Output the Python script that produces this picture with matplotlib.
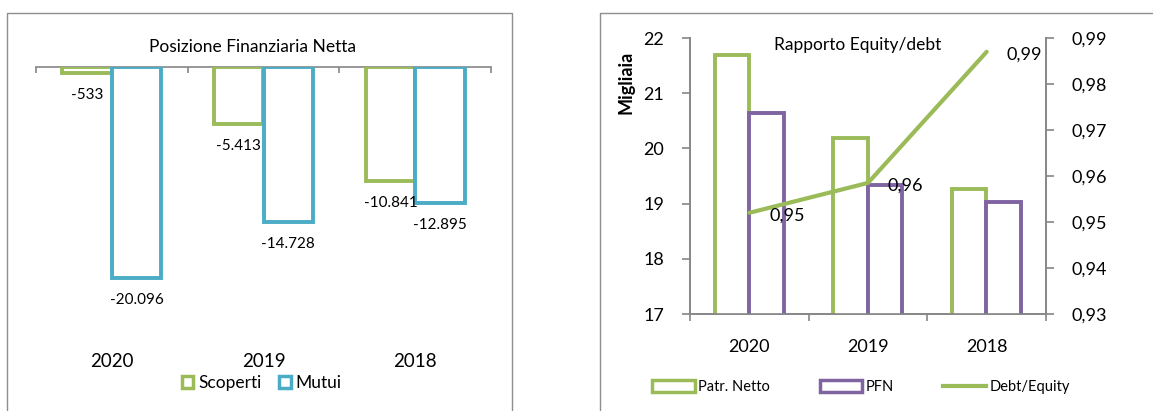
import matplotlib
matplotlib.use("Agg")
import matplotlib.pyplot as plt
from matplotlib.patches import Patch
from matplotlib.lines import Line2D
from matplotlib.ticker import FixedLocator, FuncFormatter
from matplotlib import transforms

# ---------------- data ----------------
years = ["2020", "2019", "2018"]
scoperti = [-533, -5413, -10841]
mutui = [-20096, -14728, -12895]
patr_netto = [21.69, 20.19, 19.26]      # migliaia
pfn = [20.65, 19.34, 19.03]             # migliaia
debt_equity = [0.952, 0.9585, 0.987]

title_left = "Posizione Finanziaria Netta"
title_right = "Rapporto Equity/debt"

GREEN = "#9BBB59"
BLUE = "#4BACC6"
PURPLE = "#8064A2"
AXIS = "#868686"
FRAME = "#8E8E8E"

plt.rcParams["font.family"] = ["Lato", "DejaVu Sans"]

W, H = 1153, 411
fig = plt.figure(figsize=(W / 100, H / 100), dpi=100)
fig.patch.set_facecolor("white")


def fx(x):
    return x / W


def fy(y):
    return 1 - y / H


def it(v):
    s = f"{abs(v):,}".replace(",", ".")
    return ("-" if v < 0 else "") + s


# panel frames
fig.add_artist(Line2D([fx(7), fx(7), fx(512), fx(512)], [0, fy(13), fy(13), 0],
                      transform=fig.transFigure, color=FRAME, lw=1.0))
fig.add_artist(Line2D([fx(600), fx(600), 1], [0, fy(13), fy(13)],
                      transform=fig.transFigure, color=FRAME, lw=1.0))

# ---------------- left chart ----------------
x = list(range(len(years)))
ax1 = fig.add_axes([fx(36), fy(330), fx(491) - fx(36), fy(67) - fy(330)])
ax1.set_xlim(-0.5, 2.5)
ax1.set_ylim(-25000, 0)
for s in ["left", "right", "bottom"]:
    ax1.spines[s].set_visible(False)
ax1.spines["top"].set_color(AXIS)
ax1.spines["top"].set_linewidth(1.2)
ax1.xaxis.set_ticks_position("top")
ax1.set_xticks([-0.5, 0.5, 1.5, 2.5])
ax1.tick_params(axis="x", direction="in", length=4, width=1.2, color=AXIS,
                labeltop=False, labelbottom=False)
ax1.set_yticks([])
ax1.patch.set_alpha(0)

bw1 = 0.325
xs_s = [i - 0.163 for i in x]
xs_m = [i + 0.163 for i in x]
ax1.bar(xs_s, scoperti, width=bw1, facecolor="white", edgecolor=GREEN, linewidth=2.8, zorder=3)
ax1.bar(xs_m, mutui, width=bw1, facecolor="white", edgecolor=BLUE, linewidth=2.8, zorder=4)
for xi, v in zip(xs_s + xs_m, scoperti + mutui):
    ax1.annotate(it(v), (xi, v), xytext=(0, -22), textcoords="offset pixels",
                 ha="center", va="center", fontsize=11, zorder=6)

bt1 = transforms.blended_transform_factory(ax1.transData, fig.transFigure)
for i, y in enumerate(years):
    ax1.text(i, fy(361), y, transform=bt1, ha="center", va="center", fontsize=13.5)

fig.text(fx(253), fy(47), title_left, ha="center", va="center", fontsize=12.5)

fig.legend(handles=[Patch(facecolor="white", edgecolor=GREEN, linewidth=2.5, label="Scoperti"),
                    Patch(facecolor="white", edgecolor=BLUE, linewidth=2.5, label="Mutui")],
           loc="center", bbox_to_anchor=(fx(262), fy(383)), ncol=2, frameon=False,
           fontsize=12.5, handlelength=0.65, handleheight=0.65, handletextpad=0.3,
           columnspacing=1.0, borderpad=0, borderaxespad=0)

# ---------------- right chart ----------------
ax2 = fig.add_axes([fx(690), fy(314), fx(1046) - fx(690), fy(38) - fy(314)])
ax2.set_xlim(-0.5, 2.5)
ax2.set_ylim(17, 22)
ax2.set_yticks([17, 18, 19, 20, 21, 22])
ax2.spines["top"].set_visible(False)
for s in ["left", "right", "bottom"]:
    ax2.spines[s].set_color(AXIS)
    ax2.spines[s].set_linewidth(1.2)
ax2.tick_params(axis="y", direction="out", length=5.5, width=1.2, color=AXIS,
                labelsize=13, pad=13)
ax2.set_xticks(x)
ax2.set_xticklabels(years)
ax2.tick_params(axis="x", which="major", length=0, labelsize=13, pad=18)
ax2.xaxis.set_minor_locator(FixedLocator([-0.5, 0.5, 1.5, 2.5]))
ax2.tick_params(axis="x", which="minor", direction="out", length=5, width=1.2, color=AXIS)

bw2 = 0.29
xs_p = [i - 0.147 for i in x]
xs_f = [i + 0.143 for i in x]
ax2.bar(xs_p, patr_netto, width=bw2, facecolor="white", edgecolor=GREEN, linewidth=2.8, zorder=3)
ax2.bar(xs_f, pfn, width=bw2, facecolor="white", edgecolor=PURPLE, linewidth=2.8, zorder=4)

fig.text(fx(626), fy(82), "Migliaia", rotation=90, ha="center", va="center",
         fontsize=13, fontweight="bold")

ax3 = ax2.twinx()
ax3.set_ylim(0.93, 0.99)
ax3.set_yticks([0.93, 0.94, 0.95, 0.96, 0.97, 0.98, 0.99])
ax3.yaxis.set_major_formatter(FuncFormatter(lambda v, p: f"{v:.2f}".replace(".", ",")))
ax3.spines["top"].set_visible(False)
for s in ["left", "right", "bottom"]:
    ax3.spines[s].set_color(AXIS)
    ax3.spines[s].set_linewidth(1.2)
ax3.tick_params(axis="y", direction="out", length=5.5, width=1.2, color=AXIS,
                labelsize=13, pad=13)
ax3.plot(x, debt_equity, color=GREEN, linewidth=3, solid_capstyle="round", zorder=5)
for xi, v in zip(x, debt_equity):
    ax3.annotate(f"{v:.2f}".replace(".", ","), (xi, v), xytext=(20, -3),
                 textcoords="offset pixels", ha="left", va="center", fontsize=13, zorder=6)

fig.text(fx(858), fy(45), title_right, ha="center", va="center", fontsize=12.5)

fig.legend(handles=[Patch(facecolor="white", edgecolor=GREEN, linewidth=2.5, label="Patr. Netto"),
                    Patch(facecolor="white", edgecolor=PURPLE, linewidth=2.5, label="PFN"),
                    Line2D([], [], color=GREEN, linewidth=3, label="Debt/Equity")],
           loc="center", bbox_to_anchor=(fx(861), fy(387)), ncol=3, frameon=False,
           fontsize=10.5, handlelength=2.9, handleheight=0.8, handletextpad=0.25,
           columnspacing=3.4, borderpad=0, borderaxespad=0)

fig.savefig("out.png", dpi=100, facecolor="white")
